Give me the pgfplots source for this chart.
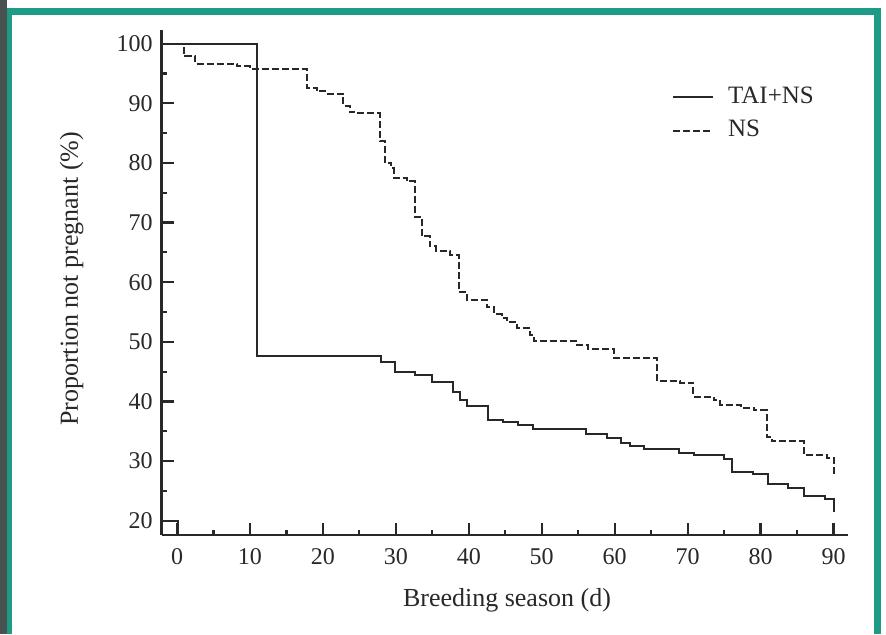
\documentclass[border=0pt]{standalone}
\usepackage{fontspec}
\setmainfont{Liberation Serif}
\usepackage{pgfplots}
\pgfplotsset{compat=1.18}
\definecolor{frameteal}{RGB}{30,155,135}
\definecolor{framegray}{RGB}{72,82,80}
\definecolor{ink}{RGB}{40,40,40}

\begin{document}
\begin{tikzpicture}
% slide frame (1 px of the reference = 0.5pt)
\fill[white] (0pt,0pt) rectangle (443pt,317pt);
\fill[framegray] (0pt,0pt) rectangle (3.5pt,317pt);
\fill[frameteal] (3.5pt,0pt) rectangle (6pt,313pt);
\fill[frameteal] (3.5pt,309.5pt) rectangle (440.5pt,313pt);
\fill[frameteal] (437pt,0pt) rectangle (440.5pt,313pt);

\begin{axis}[
  at={(80.85pt,49.5pt)}, anchor=south west,
  scale only axis, width=343.2pt, height=252.5pt,
  xmin=-2.1, xmax=92, ymin=17.6, ymax=102.3,
  axis x line*=bottom, axis y line*=left,
  axis line style={line width=1.3pt, ink},
  xtick={0,10,...,90}, ytick={20,30,...,100},
  minor tick num=1,
  major tick length=6pt, minor tick length=2.5pt,
  tick align=inside,
  every tick/.style={line width=1.1pt, ink},
  /pgf/number format/assume math mode=true,
  tick label style={font=\fontsize{12}{14}\selectfont, text=ink},
  xticklabel style={yshift=-3pt},
  yticklabel style={xshift=-1pt},
  xlabel={Breeding season (d)},
  ylabel={Proportion not pregnant (\%)},
  label style={font=\fontsize{13}{15}\selectfont, text=ink},
  x label style={at={(axis description cs:0.503,-0.129)}, anchor=center},
  y label style={at={(axis description cs:-0.131,0.507)}, anchor=center},
  legend style={draw=none, fill=none, at={(axis description cs:0.743,0.8956)},
    anchor=north west, font=\fontsize{12.5}{15}\selectfont, text=ink,
    row sep=2.8pt, column sep=6pt, inner sep=0pt,
    nodes={inner sep=1pt, text height=9pt, text depth=3pt}},
  legend cell align=left,
  legend image code/.code={\draw[#1] (0pt,0pt) -- (20pt,0pt);},
]
\addplot[const plot, line width=1pt, ink] coordinates {
  (-2.1,100) (11,47.6) (27.9,46.7) (29.9,45.0) (32.6,44.4) (34.9,43.2)
  (37.9,41.6) (38.8,40.3) (39.8,39.2) (42.7,36.9) (44.7,36.6) (46.8,36.1)
  (48.8,35.4) (56,34.6) (58.9,33.9) (60.8,33.1) (62.1,32.6) (64,32.1)
  (68.8,31.4) (70.9,31.0) (75,30.3) (76.1,28.2) (79,27.8) (81,26.1)
  (83.7,25.5) (85.9,24.1) (88.8,23.7) (90,21.5)
};
\addlegendentry{TAI+NS}
\addplot[const plot, line width=1pt, ink, dash pattern=on 3.5pt off 1.5pt] coordinates {
  (0,100) (0.9,97.9) (2.5,96.6) (8.2,96.2) (10,95.8) (17.8,92.6) (19.2,92.0)
  (20.5,91.6) (22.8,89.6) (23.7,88.5) (24.6,88.3) (27.8,83.6) (28.5,80.0)
  (29.4,79.1) (29.7,77.5) (31.5,76.9) (32.6,71.0) (33.6,67.7) (34.7,66.0)
  (35.5,65.2) (37.4,64.6) (38.6,58.4) (39.7,57.0) (42.5,55.8) (43.5,54.6)
  (44.5,54.0) (45.2,53.4) (46.6,52.3) (48.4,51.2) (48.9,50.1) (54.8,49.5)
  (56.3,48.8) (59.9,47.3) (65.8,43.4) (69,43.1) (70.8,40.8) (73.6,40.2)
  (74.5,39.4) (77.3,38.9) (79.1,38.5) (80.9,34.1) (81.6,33.3) (85.9,31.0)
  (89.1,30.6) (90,27.7)
};
\addlegendentry{NS}
\addplot[const plot, line width=1pt, ink, forget plot] coordinates {(-2.1,20) (0.2,17.6)};
\end{axis}
\end{tikzpicture}
\end{document}
